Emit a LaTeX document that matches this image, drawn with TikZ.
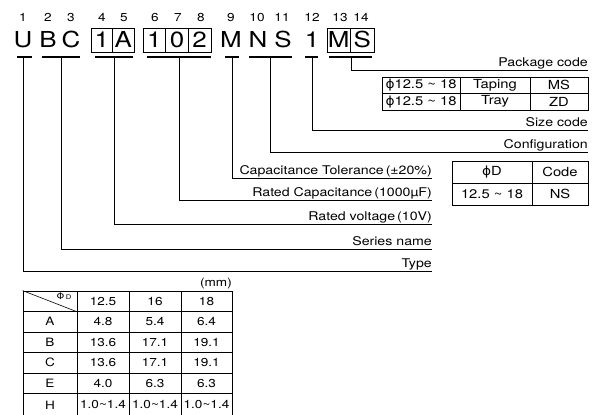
\documentclass[tikz,border=0pt]{standalone}
\usepackage{fontspec}
\setmainfont[FakeStretch=1.18]{TeX Gyre Heros}
\newfontfamily\symfont[FakeStretch=1.1]{DejaVu Sans}
\newcommand{\tld}{\textasciitilde}
\newcommand{\phisym}{{\symfont ϕ}}
\begin{document}
\begin{tikzpicture}[x=1pt,y=-1pt,
  big/.style={font=\fontsize{22}{22}\selectfont, inner sep=0pt, text height=15.5pt, text depth=0pt, minimum height=24pt},
  boxed/.style={big, draw, line width=0.8pt},
  num/.style={font=\fontsize{11.5}{11.5}\selectfont, inner sep=0pt, anchor=base},
  uline/.style={line width=1.6pt},
  conn/.style={line width=0.8pt},
  lbl/.style={font=\fontsize{12}{12}\selectfont, anchor=base east, inner sep=0pt},
  cellA/.style={draw, line width=0.9pt, inner sep=0pt, font=\fontsize{12.5}{12.5}\selectfont, minimum height=16.5pt},
  cellB/.style={draw, line width=0.8pt, inner sep=0pt, font=\fontsize{12.5}{12.5}\selectfont, minimum height=22pt},
  cellC/.style={draw, line width=0.8pt, inner sep=0pt, font=\fontsize{11.5}{11.5}\selectfont, minimum height=20.5pt}
]
\useasboundingbox (0,0) rectangle (603,415);

% position numbers
\foreach \n/\x in {1/23,2/48,3/71,4/102,5/124,6/155,7/178,8/201,9/231,10/257,11/282,12/312,13/340,14/361}
  \node[num] (n\n) at (\x,21) {\n};

% code letters
\node[big] (cU) at (23,40) {U};
\node[big] (cB) at (48,40) {B};
\node[big] (cC) at (71,40) {C};
\node[boxed, minimum width=21.5pt] (c1) at (101.75,40) {1};
\node[boxed, minimum width=21.5pt] (cA) at (123.25,40) {A};
\node[boxed, minimum width=22.67pt] (c1b) at (154.33,40) {1};
\node[boxed, minimum width=22.67pt] (c0) at (177,40) {0};
\node[boxed, minimum width=22.67pt] (c2) at (199.67,40) {2};
\node[big] (cM) at (231,40) {M};
\node[big] (cN) at (258,40) {N};
\node[big] (cS) at (283,40) {S};
\node[big] (c1c) at (312,40) {1};
\node[boxed, minimum width=23.5pt] (cM2) at (338.75,40) {M};
\node[boxed, minimum width=23.5pt] (cS2) at (362.25,40) {S};

% underlines
\draw[uline] (17,57) -- (32,57);
\draw[uline] (42,57) -- (80,57);
\draw[uline] (95,57) -- (133,57);
\draw[uline] (147,57) -- (211,57);
\draw[uline] (225,57) -- (239,57);
\draw[uline] (249,57) -- (292,57);
\draw[uline] (305,57) -- (318,57);
\draw[uline] (329,57) -- (372,57);

\coordinate (uU) at (23,57);
\coordinate (uBC) at (61,57);
\coordinate (u1A) at (114,57);
\coordinate (u102) at (179,57);
\coordinate (uM) at (232,57);
\coordinate (uNS) at (270,57);
\coordinate (u1) at (312,57);
\coordinate (uMS) at (351,57);

% line ends
\coordinate (ePkg) at (588,70);
\coordinate (eSize) at (588,130);
\coordinate (eConf) at (588,152);
\coordinate (eTol) at (432,178);
\coordinate (eCap) at (432,200);
\coordinate (eVolt) at (432,224);
\coordinate (eSer) at (432,249);
\coordinate (eType) at (432,271);

\draw[conn] (uMS) |- (ePkg);
\draw[conn] (u1) |- (eSize);
\draw[conn] (uNS) |- (eConf);
\draw[conn] (uM) |- (eTol);
\draw[conn] (u102) |- (eCap);
\draw[conn] (u1A) |- (eVolt);
\draw[conn] (uBC) |- (eSer);
\draw[conn] (uU) |- (eType);

\node[lbl] (lPkg) at ([yshift=3.5pt]ePkg) {Package code};
\node[lbl] (lSize) at ([yshift=3.5pt]eSize) {Size code};
\node[lbl] (lConf) at ([yshift=3.5pt]eConf) {Configuration};
\node[lbl] (lTol) at ([yshift=3.5pt]eTol) {Capacitance Tolerance\,(±20\%)};
\node[lbl] (lCap) at ([yshift=3.5pt]eCap) {Rated Capacitance\,(1000µF)};
\node[lbl] (lVolt) at ([yshift=3.5pt]eVolt) {Rated voltage\,(10V)};
\node[lbl] (lSer) at ([yshift=3.5pt]eSer) {Series name};
\node[lbl] (lType) at ([yshift=3.5pt]eType) {Type};

% package code table
\node[cellA, minimum width=78pt] (p11) at (421,85.25) {\phisym12.5 \tld{} 18};
\node[cellA, minimum width=70pt] (p12) at (495,85.25) {Taping};
\node[cellA, minimum width=58pt] (p13) at (559,85.25) {MS};
\node[cellA, minimum width=78pt] (p21) at (421,101.75) {\phisym12.5 \tld{} 18};
\node[cellA, minimum width=70pt] (p22) at (495,101.75) {Tray};
\node[cellA, minimum width=58pt] (p23) at (559,101.75) {ZD};

% configuration table
\node[cellB, minimum width=80pt] (q11) at (492,172) {\phisym D};
\node[cellB, minimum width=56pt] (q12) at (560,172) {Code};
\node[cellB, minimum width=80pt] (q21) at (492,194) {12.5 \tld{} 18};
\node[cellB, minimum width=56pt] (q22) at (560,194) {NS};

% dimensions table
\node[font=\fontsize{11.5}{11.5}\selectfont, anchor=base east, inner sep=0pt] (mm) at (232,286) {(mm)};
\node[cellC, minimum width=54pt] (t00) at (50,301.25) {};
\draw[line width=0.6pt] (t00.north west) -- (t00.south east);
\node[inner sep=0pt, font=\fontsize{9}{9}\selectfont] (phiD) at (64,296.5) {{\symfont Φ}\,{\symfont\fontsize{6.5}{6.5}\selectfont D}};
\foreach \c/\x/\w in {1/103/52,2/155/52,3/206.5/51}{
  \node[cellC, minimum width=\w pt] (t0\c) at (\x,301.25) {};
}
\node at (t01) [font=\fontsize{11.5}{11.5}\selectfont] {12.5};
\node at (t02) [font=\fontsize{11.5}{11.5}\selectfont] {16};
\node at (t03) [font=\fontsize{11.5}{11.5}\selectfont] {18};
\foreach \r/\y/\h/\a/\b/\c/\d in {1/321.75/20.5/A/4.8/5.4/6.4, 2/342.25/20.5/B/13.6/17.1/19.1, 3/362.75/20.5/C/13.6/17.1/19.1, 4/383.25/20.5/E/4.0/6.3/6.3}{
  \node[cellC, minimum width=54pt] (t\r0) at (50,\y) {\a};
  \node[cellC, minimum width=52pt] (t\r1) at (103,\y) {\b};
  \node[cellC, minimum width=52pt] (t\r2) at (155,\y) {\c};
  \node[cellC, minimum width=51pt] (t\r3) at (206.5,\y) {\d};
}
\node[cellC, minimum width=54pt, minimum height=23pt] (t50) at (50,405) {H};
\node[cellC, minimum width=52pt, minimum height=23pt] (t51) at (103,405) {1.0\tld1.4};
\node[cellC, minimum width=52pt, minimum height=23pt] (t52) at (155,405) {1.0\tld1.4};
\node[cellC, minimum width=51pt, minimum height=23pt] (t53) at (206.5,405) {1.0\tld1.4};
\end{tikzpicture}
\end{document}
